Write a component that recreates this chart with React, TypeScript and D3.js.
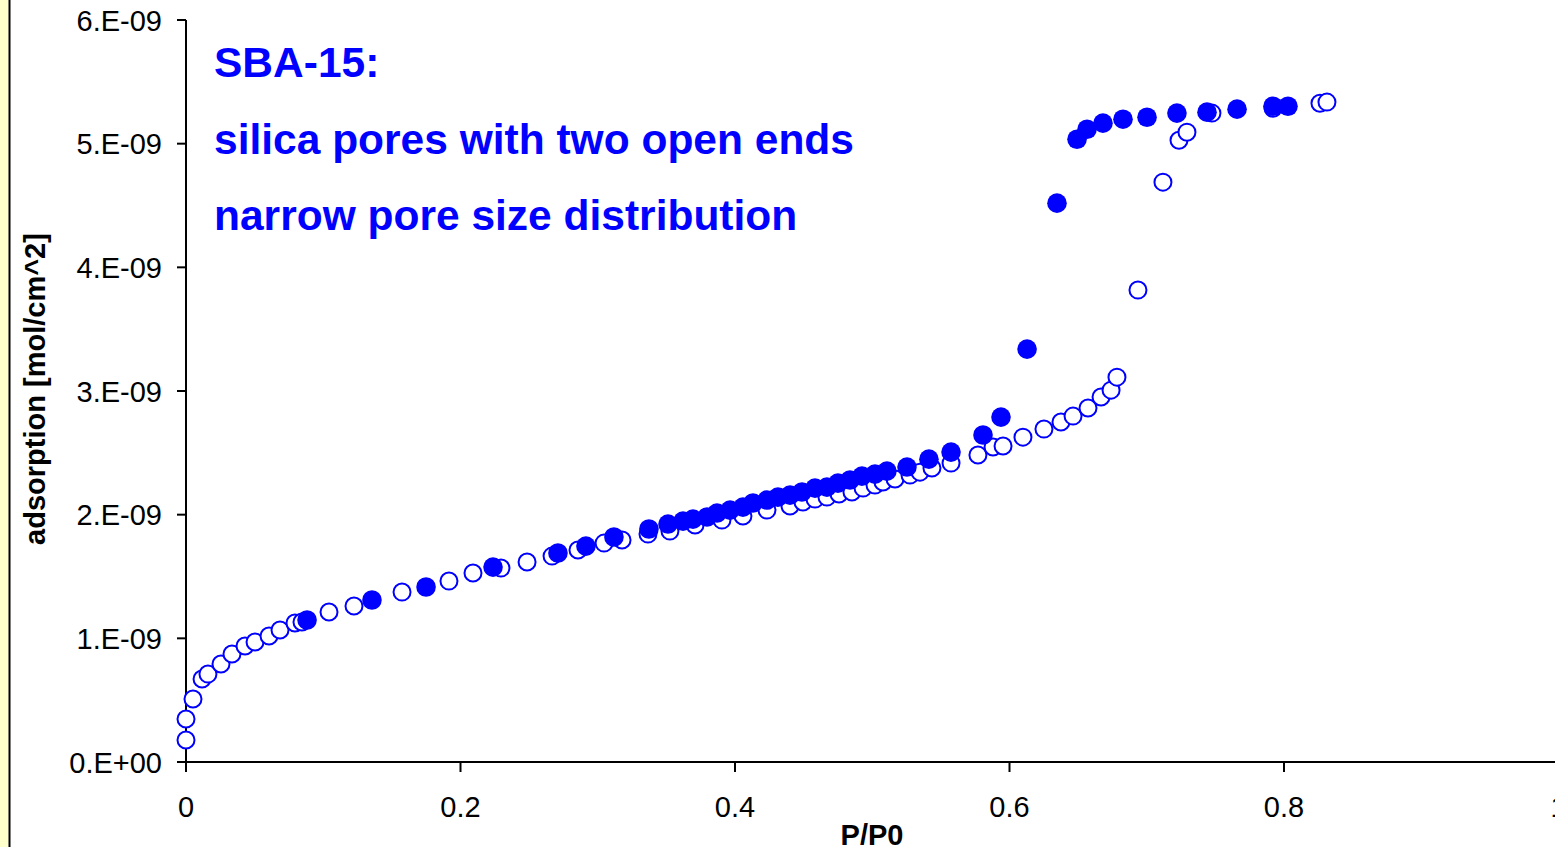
import React from "react";
import * as d3 from "d3";

// adsorption branch (open circles): P/P0 and adsorption in 1e-9 mol/cm^2
const adsP = [0.0, 0.0, 0.0051, 0.0117, 0.016, 0.0255, 0.0335, 0.043, 0.0503, 0.0605, 0.0685, 0.0794, 0.0845, 0.1042, 0.1224, 0.1574, 0.1916, 0.2091, 0.2295, 0.2485, 0.2667, 0.2856, 0.3046, 0.3177, 0.3366, 0.3526, 0.3709, 0.3905, 0.4058, 0.4233, 0.4401, 0.4495, 0.4583, 0.467, 0.4758, 0.4852, 0.4933, 0.502, 0.5078, 0.5166, 0.5275, 0.5348, 0.5435, 0.5574, 0.577, 0.588, 0.5953, 0.6098, 0.6251, 0.6375, 0.6463, 0.6572, 0.6667, 0.674, 0.6783, 0.6936, 0.7118, 0.7235, 0.7293, 0.7475, 0.792, 0.8262, 0.8313];
const adsV = [0.178, 0.348, 0.509, 0.671, 0.711, 0.792, 0.873, 0.938, 0.97, 1.019, 1.067, 1.124, 1.132, 1.213, 1.261, 1.374, 1.463, 1.528, 1.568, 1.617, 1.665, 1.714, 1.77, 1.795, 1.843, 1.867, 1.916, 1.956, 1.989, 2.037, 2.07, 2.102, 2.126, 2.142, 2.167, 2.183, 2.215, 2.239, 2.264, 2.288, 2.32, 2.344, 2.377, 2.417, 2.482, 2.547, 2.555, 2.627, 2.692, 2.749, 2.797, 2.862, 2.951, 3.007, 3.112, 3.816, 4.689, 5.028, 5.093, 5.247, 5.287, 5.327, 5.336];

// desorption branch (filled circles)
const desP = [0.0882, 0.1355, 0.1749, 0.2237, 0.271, 0.2914, 0.3118, 0.3373, 0.3512, 0.3621, 0.3694, 0.3796, 0.3869, 0.3964, 0.4058, 0.4131, 0.4233, 0.4313, 0.4401, 0.4488, 0.4583, 0.467, 0.475, 0.4838, 0.4925, 0.502, 0.5107, 0.5253, 0.5413, 0.5574, 0.5807, 0.5938, 0.6128, 0.6346, 0.6492, 0.6565, 0.6681, 0.6827, 0.7002, 0.722, 0.7439, 0.7658, 0.792, 0.8029];
const desV = [1.148, 1.31, 1.415, 1.576, 1.69, 1.746, 1.819, 1.884, 1.924, 1.948, 1.964, 1.981, 2.013, 2.037, 2.061, 2.094, 2.118, 2.142, 2.158, 2.183, 2.215, 2.223, 2.255, 2.28, 2.312, 2.328, 2.352, 2.385, 2.449, 2.506, 2.644, 2.789, 3.339, 4.519, 5.036, 5.117, 5.166, 5.198, 5.214, 5.247, 5.255, 5.279, 5.303, 5.303];

const xTicks = [0, 0.2, 0.4, 0.6, 0.8, 1];
const xTickLabels = ["0", "0.2", "0.4", "0.6", "0.8", "1"];
const yTicks = [0, 1, 2, 3, 4, 5, 6];
const yTickLabels = ["0.E+00", "1.E-09", "2.E-09", "3.E-09", "4.E-09", "5.E-09", "6.E-09"];

const annotation = ["SBA-15:", "silica pores with two open ends", "narrow pore size distribution"];
const xTitle = "P/P0";
const yTitle = "adsorption [mol/cm^2]";

const W = 1555;
const H = 847;
const BLUE = "#0000FF";
const FONT = "'Liberation Sans', Arial, Helvetica, sans-serif";

export default function App() {
  const x = d3.scaleLinear().domain([0, 1]).range([186, 1558.5]);
  const y = d3.scaleLinear().domain([0, 6]).range([762, 20]);
  const ads = adsP.map((p, i) => [p, adsV[i]] as [number, number]);
  const des = desP.map((p, i) => [p, desV[i]] as [number, number]);

  return (
    <svg
      width={W}
      height={H}
      style={{ position: "absolute", left: 0, top: 0, background: "#fff" }}
      fontFamily={FONT}
    >
      <rect x={0} y={0} width={W} height={H} fill="#ffffff" />
      <rect x={0} y={0} width={8.5} height={H} fill="#FFFFCC" />
      <line x1={9.5} x2={9.5} y1={0} y2={H} stroke="#000" strokeWidth={2} />

      {/* y axis */}
      <line x1={x(0)} x2={x(0)} y1={y(6)} y2={y(0)} stroke="#000" strokeWidth={2} />
      {yTicks.map((t, i) => (
        <g key={"yt" + i}>
          <line x1={x(0) - 9} x2={x(0)} y1={y(t)} y2={y(t)} stroke="#000" strokeWidth={2} />
          <text x={162} y={y(t) + 10.5} textAnchor="end" fontSize={29} fill="#000">
            {yTickLabels[i]}
          </text>
        </g>
      ))}

      {/* x axis */}
      <line x1={x(0)} x2={W} y1={y(0)} y2={y(0)} stroke="#000" strokeWidth={2} />
      {xTicks.map((t, i) => (
        <g key={"xt" + i}>
          <line x1={x(t)} x2={x(t)} y1={y(0)} y2={y(0) + 10} stroke="#000" strokeWidth={2} />
          <text x={x(t)} y={817} textAnchor="middle" fontSize={29} fill="#000">
            {xTickLabels[i]}
          </text>
        </g>
      ))}

      <text x={872} y={845} textAnchor="middle" fontSize={29} fontWeight="bold" fill="#000">
        {xTitle}
      </text>
      <text
        transform={`translate(45,389) rotate(-90)`}
        textAnchor="middle"
        fontSize={29}
        fontWeight="bold"
        fill="#000"
      >
        {yTitle}
      </text>

      {/* annotation */}
      {annotation.map((s, i) => (
        <text key={"a" + i} x={214} y={77 + i * 76.5} fontSize={42.5} fontWeight="bold" fill={BLUE}>
          {s}
        </text>
      ))}

      {/* adsorption: open circles */}
      {ads.map((d, i) => (
        <circle key={"o" + i} cx={x(d[0])} cy={y(d[1])} r={8.5} fill="#fff" stroke={BLUE} strokeWidth={2} />
      ))}
      {/* desorption: filled circles */}
      {des.map((d, i) => (
        <circle key={"f" + i} cx={x(d[0])} cy={y(d[1])} r={9.8} fill={BLUE} />
      ))}
    </svg>
  );
}
